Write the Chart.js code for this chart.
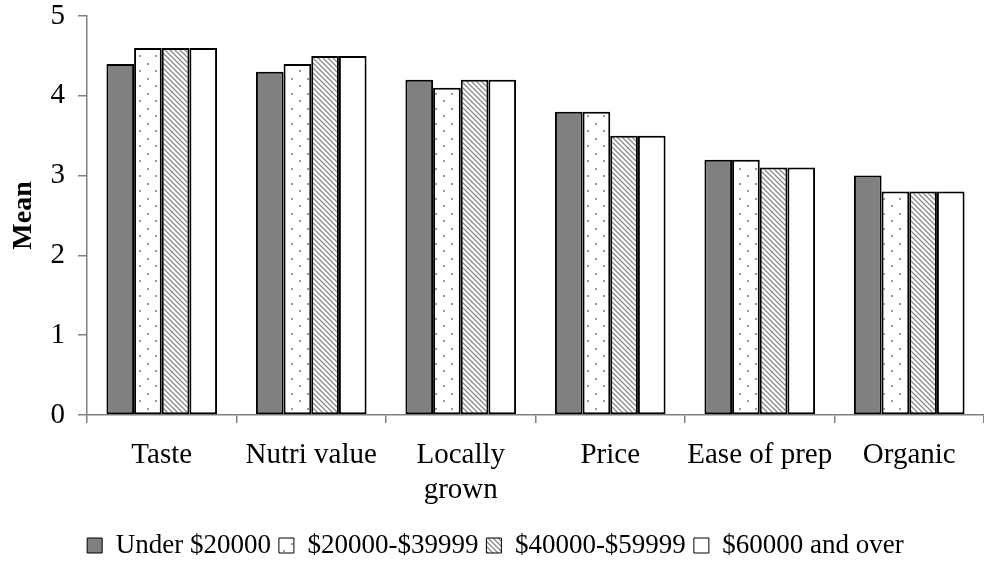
<!DOCTYPE html>
<html>
<head>
<meta charset="utf-8">
<script src="https://cdn.jsdelivr.net/npm/chart.js@4.4.1/dist/chart.umd.min.js"></script>
<style>
  html, body { margin: 0; padding: 0; background: #fff; }
  #wrap { width: 984px; height: 583px; position: relative; }
</style>
</head>
<body>
<div id="wrap"><canvas id="c"></canvas></div>
<script>
// Mean ratings of purchase factors by household income
const categories = ['Taste', 'Nutri value', ['Locally', 'grown'], 'Price', 'Ease of prep', 'Organic'];
const seriesNames = ['Under $20000', '$20000-$39999', '$40000-$59999', '$60000 and over'];
const under20k  = [4.4, 4.3, 4.2, 3.8, 3.2, 3.0];
const k20to40   = [4.6, 4.4, 4.1, 3.8, 3.2, 2.8];
const k40to60   = [4.6, 4.5, 4.2, 3.5, 3.1, 2.8];
const over60k   = [4.6, 4.5, 4.2, 3.5, 3.1, 2.8];
const yTicks = [0, 1, 2, 3, 4, 5];

function dotPattern() {
  const c = document.createElement('canvas');
  c.width = 16; c.height = 15;
  const g = c.getContext('2d');
  g.fillStyle = '#fff'; g.fillRect(0, 0, 16, 15);
  g.fillStyle = '#9a9a9a';
  g.fillRect(3, 3, 2, 2);
  g.fillRect(11, 10, 2, 2);
  return g.createPattern(c, 'repeat');
}
function hatchPattern() {
  const s = 5;
  const c = document.createElement('canvas');
  c.width = s; c.height = s;
  const g = c.getContext('2d');
  g.fillStyle = '#fff'; g.fillRect(0, 0, s, s);
  g.strokeStyle = '#8a8a8a'; g.lineWidth = 1.3;
  g.beginPath();
  g.moveTo(-1, -1); g.lineTo(s + 1, s + 1);
  g.moveTo(-1, s - 1); g.lineTo(1, s + 1);
  g.moveTo(s - 1, -1); g.lineTo(s + 1, 1);
  g.stroke();
  return g.createPattern(c, 'repeat');
}

const fills = ['#808080', dotPattern(), hatchPattern(), '#ffffff'];
const values = [under20k, k20to40, k40to60, over60k];

const FONT = "'Liberation Serif', 'Times New Roman', serif";

new Chart(document.getElementById('c'), {
  type: 'bar',
  data: {
    labels: categories,
    datasets: seriesNames.map((name, i) => ({
      label: name,
      data: values[i],
      backgroundColor: fills[i],
      borderColor: '#000',
      borderWidth: 2,
      borderSkipped: false,
      categoryPercentage: 0.74,
      barPercentage: 1.0
    }))
  },
  options: {
    responsive: true,
    maintainAspectRatio: false,
    animation: false,
    layout: { padding: { top: 16, right: 0, left: 7, bottom: 14 } },
    plugins: {
      tooltip: { enabled: false },
      legend: {
        position: 'bottom',
        labels: {
          font: { family: FONT, size: 27 },
          color: '#000',
          boxWidth: 15,
          boxHeight: 15,
          padding: 8,
          generateLabels(chart) {
            return chart.data.datasets.map((ds, i) => ({
              text: ds.label,
              fillStyle: ds.backgroundColor,
              strokeStyle: '#000',
              lineWidth: 1,
              hidden: false,
              datasetIndex: i
            }));
          }
        }
      }
    },
    scales: {
      x: {
        grid: {
          offset: true,
          drawOnChartArea: false,
          drawTicks: true,
          tickLength: 8,
          color: '#808080',
          lineWidth: 1.5
        },
        border: { color: '#808080', width: 1.5 },
        ticks: {
          font: { family: FONT, size: 29, lineHeight: 1.2 },
          color: '#000',
          maxRotation: 0,
          autoSkip: false,
          padding: 15
        },
        afterFit(scale) { scale.height = 109; }
      },
      y: {
        min: 0,
        max: 5,
        afterBuildTicks(scale) { scale.ticks = yTicks.map(v => ({ value: v })); },
        grid: {
          drawOnChartArea: false,
          drawTicks: true,
          tickLength: 9,
          color: '#808080',
          lineWidth: 1.5
        },
        border: { color: '#808080', width: 1.5 },
        ticks: {
          font: { family: FONT, size: 29 },
          color: '#000',
          padding: 13
        },
        title: {
          display: true,
          text: 'Mean',
          font: { family: FONT, size: 28, weight: 'bold' },
          color: '#000',
          padding: { top: 0, bottom: 0 }
        },
        afterFit(scale) {
          scale.width = 80;
          scale.paddingTop = 0;
          scale.paddingBottom = 0;
        }
      }
    }
  }
});
</script>
</body>
</html>
